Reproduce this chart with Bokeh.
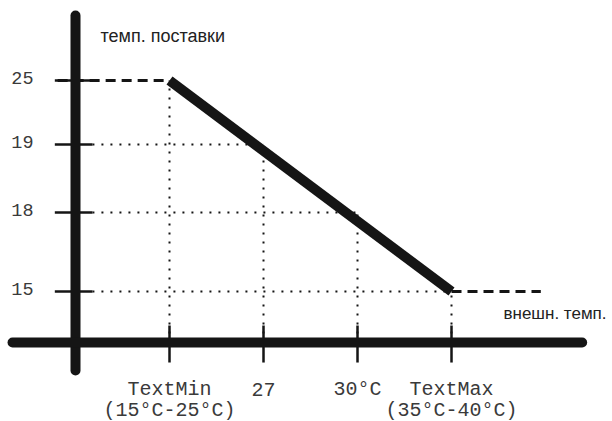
import numpy as np
from bokeh.plotting import figure
from bokeh.models import ColumnDataSource, Range1d
from bokeh.core.properties import value
from bokeh.embed import file_html
from bokeh.resources import INLINE

# ---- data ----
x_labels = ["TextMin", "27", "30°C", "TextMax"]
x_sublabels = ["(15°C-25°C)", "", "", "(35°C-40°C)"]
supply_temps = [25, 19, 18, 15]
y_tick_labels = ["25", "19", "18", "15"]
y_title = "темп. поставки"
x_title = "внешн. темп."

# ---- schematic layout (not to scale, as in the original sketch) ----
xi = np.arange(1, len(x_labels) + 1, dtype=float)
def lvl(v):
    return np.interp(v, [15, 18, 19, 25], [0.98, 2.5, 3.81, 5.04])
ylv = lvl(np.array(supply_temps, dtype=float))
ytick_lv = lvl(np.array([float(s) for s in y_tick_labels]))

p = figure(width=612, height=421, x_range=Range1d(-0.7979, 5.7127),
           y_range=Range1d(-1.519, 6.577), output_backend="svg",
           toolbar_location=None, min_border=0,
           x_axis_type=None, y_axis_type=None)
p.grid.visible = False
p.outline_line_color = None
p.background_fill_color = "white"

ink = "#151515"

# dotted guide lines
hsrc = ColumnDataSource(dict(x0=[0.18] * 3, x1=list(xi[1:]), y=list(ylv[1:])))
p.segment(x0="x0", y0="y", x1="x1", y1="y", source=hsrc, line_color=ink,
          line_width=2, line_dash="2 7")
vsrc = ColumnDataSource(dict(x=list(xi), y0=[0.0] * 4, y1=list(ylv)))
p.segment(x0="x", y0="y0", x1="x", y1="y1", source=vsrc, line_color=ink,
          line_width=2, line_dash="2 7")

# dashed plateaus
p.line([-0.19, xi[0]], [ylv[0], ylv[0]], line_color=ink, line_width=3,
       line_dash="10 6")
p.line([xi[-1], 4.95], [ylv[-1], ylv[-1]], line_color=ink, line_width=3,
       line_dash="10 6")

# tick marks
tsrc = ColumnDataSource(dict(y=list(ytick_lv)))
p.segment(x0=-0.22, y0="y", x1=0.18, y1="y", source=tsrc, line_color=ink,
          line_width=2.5)
xsrc = ColumnDataSource(dict(x=list(xi)))
p.segment(x0="x", y0=-0.385, x1="x", y1=0.327, source=xsrc, line_color=ink,
          line_width=2.5)

# axes (thick strokes)
p.line([0, 0], [-0.538, 6.288], line_color=ink, line_width=10, line_cap="round")
p.line([-0.67, 5.39], [0, 0], line_color=ink, line_width=10, line_cap="round")

# heating curve
p.line([xi[0], xi[-1]], [ylv[0], ylv[-1]], line_color=ink, line_width=10,
       line_cap="butt")

# y tick labels
p.text(x=[-0.447] * 4, y=list(ytick_lv + 0.04), text=y_tick_labels,
       text_font=value("Liberation Mono"), text_font_size="18.5px",
       text_color="#3a3a3a", text_align="right", text_baseline="middle")

# x tick labels
p.text(x=list(xi), y=[-0.904] * 4, text=x_labels,
       text_font=value("Liberation Mono"), text_font_size="20px",
       text_color="#3a3a3a", text_align="center", text_baseline="middle")
p.text(x=list(xi), y=[-1.308] * 4, text=x_sublabels,
       text_font=value("Liberation Mono"), text_font_size="20px",
       text_color="#3a3a3a", text_align="center", text_baseline="middle")

# axis titles
p.text(x=[0.266], y=[5.885], text=[y_title], text_font=value("Liberation Sans"),
       text_font_size="18px", text_color="#222222", text_align="left",
       text_baseline="middle")
p.text(x=[4.553], y=[0.558], text=[x_title], text_font=value("Liberation Sans"),
       text_font_size="17px", text_color="#222222", text_align="left",
       text_baseline="middle")

open("out.html", "w").write(file_html(p, INLINE))
